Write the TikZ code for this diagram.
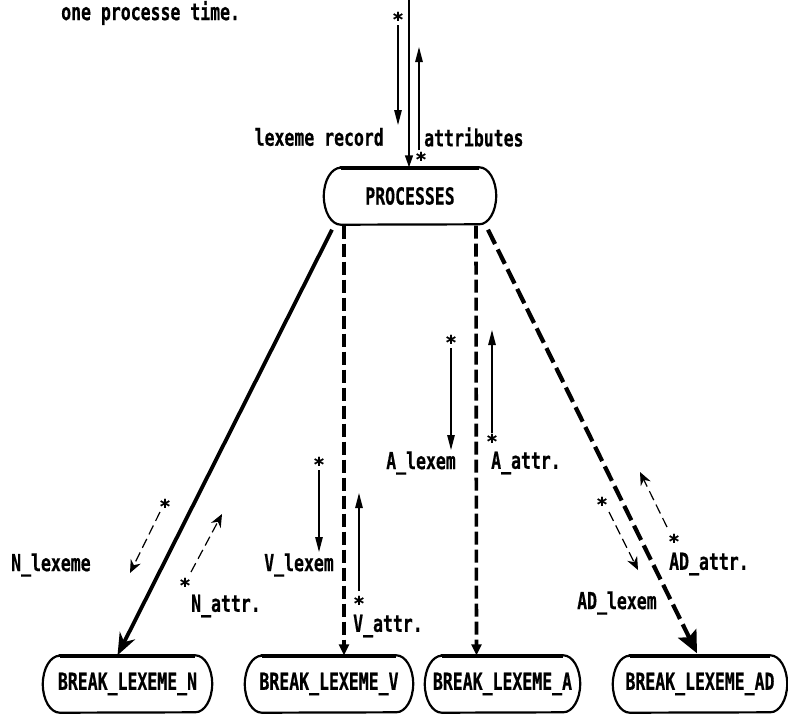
\documentclass[tikz,border=0pt]{standalone}
\usepackage{fontspec}
\newfontfamily\dmono{DejaVu Sans Mono}[BoldFeatures={FakeBold=0.6}]
\usetikzlibrary{arrows.meta,calc}
% tall, condensed look for the labels
\newcommand\T[1]{\scalebox{1}[1.42]{#1}}
\begin{document}
\begin{tikzpicture}[x=1pt,y=-1pt,
  txt/.style={font=\dmono\bfseries\fontsize{16.5}{18}\selectfont, inner sep=0pt},
  star/.style={font=\dmono\bfseries\fontsize{19}{20}\selectfont, inner sep=0pt},
  box/.style={minimum height=57pt, inner sep=0pt,
              font=\dmono\bfseries\fontsize{16.5}{18}\selectfont},
  outline/.style={line width=2.2pt},
  topedge/.style={line width=4pt},
  flow/.style={line width=1.2pt, -{Triangle[length=15pt,width=7.5pt]}},
  dflow/.style={line width=1.2pt, dash pattern=on 10pt off 5pt,
                -{Stealth[length=13pt,width=11pt]}},
  solidlink/.style={line width=3.8pt, -{Stealth[length=22pt,width=17pt]}},
  vlink/.style={line width=3.6pt, dash pattern=on 13pt off 5pt,
                -{Triangle[length=11pt,width=10pt]}},
  dlink/.style={line width=4.2pt, dash pattern=on 16pt off 6pt,
                -{Stealth[length=22pt,width=20pt,inset=4pt]}}
]
\useasboundingbox (0,0) rectangle (788,716);

% ---- nodes ----
\node[box, minimum width=172pt] (P) at (410,196) {\T{PROCESSES}};
\node[box, minimum width=169pt] (bN)  at (127.5,684) {\T{BREAK\_LEXEME\_N}};
\node[box, minimum width=168pt] (bV)  at (329,684)   {\T{BREAK\_LEXEME\_V}};
\node[box, minimum width=155pt] (bA)  at (502.5,684) {\T{BREAK\_LEXEME\_A}};
\node[box, minimum width=174pt] (bAD) at (700,684)   {\T{BREAK\_LEXEME\_AD}};

% box outlines: straight top and bottom, elliptic ends, heavier top edge
\foreach \bx in {P,bN,bV,bA,bAD}{
  \draw[outline] let \p1=(\bx.north west), \p2=(\bx.south east) in
    (\x1+17pt,\y1) -- (\x2-17pt,\y1)
    arc[start angle=90, end angle=-90, x radius=17pt, y radius=28.5pt]
    -- (\x1+17pt,\y2)
    arc[start angle=270, end angle=90, x radius=17pt, y radius=28.5pt] -- cycle;
  \draw[topedge] let \p1=(\bx.north west), \p2=(\bx.north east) in
    (\x1+17pt,\y1-0.8pt) -- (\x2-17pt,\y1-0.8pt);
}

% ---- main links ----
\coordinate (top) at (409,0);
\draw[line width=1.4pt, -{Triangle[length=12pt,width=8pt]}] (top) -- (top |- P.north);
\draw[solidlink] ([shift={(-78,5)}]P.south) -- ([shift={(-10,0)}]bN.north);
\draw[vlink] ([shift={(-66,1)}]P.south) -- ([shift={(15,0)}]bV.north);
\draw[vlink] ([shift={(66,1)}]P.south) -- ([shift={(-26,0)}]bA.north);
\draw[dlink] ([shift={(78,5)}]P.south) -- ([shift={(-3,-2)}]bAD.north);

% ---- data flows ----
\coordinate (lr0) at (398,25);  \coordinate (lr1) at (398,125);
\coordinate (at0) at (419,150); \coordinate (at1) at (419,47);
\draw[flow] (lr0) -- (lr1);
\draw[flow] (at0) -- (at1);

\coordinate (nl0) at (160,512); \coordinate (nl1) at (130,573);
\coordinate (na0) at (191,572); \coordinate (na1) at (222,514);
\draw[dflow] (nl0) -- (nl1);
\draw[dflow] (na0) -- (na1);

\coordinate (vl0) at (319,470); \coordinate (vl1) at (319,552);
\coordinate (va0) at (359,591); \coordinate (va1) at (359,493);
\draw[flow] (vl0) -- (vl1);
\draw[flow] (va0) -- (va1);

\coordinate (al0) at (451,348); \coordinate (al1) at (451,450);
\coordinate (aa0) at (492,433); \coordinate (aa1) at (492,330);
\draw[flow] (al0) -- (al1);
\draw[flow] (aa0) -- (aa1);

\coordinate (dl0) at (609,512); \coordinate (dl1) at (638,570);
\coordinate (da0) at (667,527); \coordinate (da1) at (640,472);
\draw[dflow] (dl0) -- (dl1);
\draw[dflow] (da0) -- (da1);

% ---- stars ----
\node[star] (s1) at (398,19)  {*};
\node[star] (s2) at (421,159) {*};
\node[star] (s3) at (165,506) {*};
\node[star] (s4) at (185,585) {*};
\node[star] (s5) at (319,464) {*};
\node[star] (s6) at (359,603) {*};
\node[star] (s7) at (451,342) {*};
\node[star] (s8) at (492,441) {*};
\node[star] (s9) at (602,504) {*};
\node[star] (s10) at (674,541) {*};

% ---- labels ----
\node[txt, anchor=west] (t0) at (61,13)   {\T{one processe time.}};
\node[txt, anchor=east] (t1) at (384,137) {\T{lexeme record}};
\node[txt, anchor=west] (t2) at (424,137) {\T{attributes}};
\node[txt, anchor=west] (t3) at (11,565)  {\T{N\_lexeme}};
\node[txt, anchor=west] (t4) at (191,606) {\T{N\_attr.}};
\node[txt, anchor=east] (t5) at (334,565) {\T{V\_lexem}};
\node[txt, anchor=west] (t6) at (353,626) {\T{V\_attr.}};
\node[txt, anchor=east] (t7) at (456,463) {\T{A\_lexem}};
\node[txt, anchor=west] (t8) at (491,463) {\T{A\_attr.}};
\node[txt, anchor=west] (t9) at (669,564) {\T{AD\_attr.}};
\node[txt, anchor=west] (t10) at (577,603) {\T{AD\_lexem}};
\end{tikzpicture}
\end{document}
